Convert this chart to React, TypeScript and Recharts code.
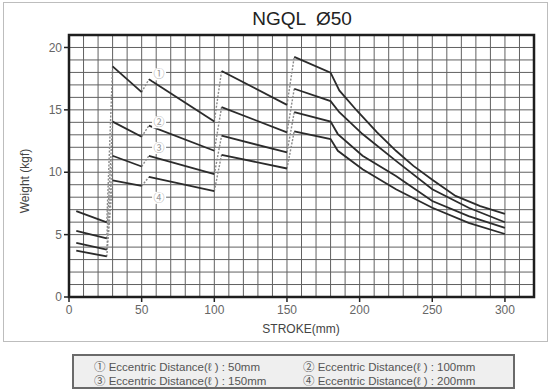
import { CartesianGrid, Line, LineChart, ReferenceArea, ReferenceDot, XAxis, YAxis } from 'recharts'

type Pt = { x: number; y: number }

// stroke (mm) / weight (kgf), one list of segments per eccentric distance
const SERIES_50: number[][][] = [
	[[5, 6.88], [26, 5.98]],
	[[30, 18.49], [50, 16.42]],
	[[55, 17.45], [100, 14.06]],
	[[105, 18.12], [150, 15.4]],
	[[155, 19.25], [180, 17.98], [186, 16.56], [198, 14.95], [212, 13.2], [225, 11.72], [237, 10.51], [250, 9.4], [266, 8.1], [283, 7.28], [300, 6.67]],
]
const SERIES_100: number[][][] = [
	[[5, 5.3], [26, 4.7]],
	[[30, 14.06], [50, 12.85]],
	[[55, 13.74], [100, 11.72]],
	[[105, 15.22], [150, 13.2]],
	[[155, 16.69], [180, 15.7], [186, 14.81], [202, 13.06], [225, 10.91], [250, 8.63], [275, 7.15], [300, 5.99]],
]
const SERIES_150: number[][][] = [
	[[5, 4.33], [26, 3.79]],
	[[30, 11.32], [50, 10.46]],
	[[55, 11.32], [100, 9.84]],
	[[105, 12.93], [150, 11.59]],
	[[155, 14.81], [180, 14.06], [185, 13.06], [202, 11.32], [225, 9.7], [250, 7.69], [275, 6.48], [300, 5.54]],
]
const SERIES_200: number[][][] = [
	[[5, 3.71], [26, 3.25]],
	[[30, 9.35], [50, 8.9]],
	[[55, 9.62], [100, 8.49]],
	[[105, 11.4], [150, 10.3]],
	[[155, 13.28], [180, 12.66], [185, 11.72], [202, 10.24], [225, 8.63], [250, 7.15], [275, 5.94], [300, 5.05]],
]
const ALL_SERIES = [SERIES_50, SERIES_100, SERIES_150, SERIES_200]

const MARKS = ['①', '②', '③', '④']
const MARK_X = [62, 62, 62, 62]
const MARK_Y = [17.85, 14, 11.95, 7.95]

const LEGEND = [
	'① Eccentric Distance(ℓ ) : 50mm',
	'② Eccentric Distance(ℓ ) : 100mm',
	'③ Eccentric Distance(ℓ ) : 150mm',
	'④ Eccentric Distance(ℓ ) : 200mm',
]

const X_LABELS = [0, 50, 100, 150, 200, 250, 300]
const Y_LABELS = [0, 5, 10, 15, 20]
const X_GRID = Array.from({ length: 33 }, (_, i) => i * 10)
const Y_GRID = Array.from({ length: 22 }, (_, i) => i)

const FONT = '"Liberation Sans", Arial, "Noto Sans CJK SC", sans-serif'

const toPts = (seg: number[][]): Pt[] => seg.map(([x, y]) => ({ x, y }))

function XTick(props: any) {
	const { x, y, payload } = props
	if (!X_LABELS.includes(payload.value)) return <g />
	return (
		<g>
			<line x1={x} x2={x} y1={y - 8} y2={y - 3} stroke='#222' strokeWidth={1.5} />
			<text x={x} y={y} dy='0.78em' textAnchor='middle' fontSize={12} fill='#666' fontFamily={FONT}>
				{payload.value}
			</text>
		</g>
	)
}

function YTick(props: any) {
	const { x, y, payload } = props
	if (!Y_LABELS.includes(payload.value)) return <g />
	return (
		<g>
			<line x1={x + 3} x2={x + 8} y1={y} y2={y} stroke='#222' strokeWidth={1.5} />
			<text x={x + 1} y={y} dy='0.35em' textAnchor='end' fontSize={12} fill='#666' fontFamily={FONT}>
				{payload.value}
			</text>
		</g>
	)
}

function Mark(label: string) {
	return (props: any) => (
		<g>
			<rect x={props.cx - 7} y={props.cy - 6} width={14} height={12} fill='#fff' />
			<text x={props.cx} y={props.cy} dy='0.35em' textAnchor='middle' fontSize={11} fill='#999' fontFamily={FONT}>
				{label}
			</text>
		</g>
	)
}

export default function App() {
	const solids: JSX.Element[] = []
	const dotted: JSX.Element[] = []
	ALL_SERIES.forEach((series, si) => {
		series.forEach((seg, gi) => {
			solids.push(
				<Line
					key={`s${si}-${gi}`}
					data={toPts(seg)}
					dataKey='y'
					type='linear'
					stroke='#2b2b2b'
					strokeWidth={1.8}
					dot={false}
					activeDot={false}
					isAnimationActive={false}
				/>,
			)
			if (gi > 0) {
				const prev = series[gi - 1]
				dotted.push(
					<Line
						key={`d${si}-${gi}`}
						data={toPts([prev[prev.length - 1], seg[0]])}
						dataKey='y'
						type='linear'
						stroke='#8a8a8a'
						strokeWidth={1.4}
						strokeDasharray='2 1.5'
						dot={false}
						activeDot={false}
						isAnimationActive={false}
					/>,
				)
			}
		})
	})

	return (
		<div style={{ position: 'absolute', left: 0, top: 0, width: 551, height: 392, background: '#fff', fontFamily: FONT }}>
			<div style={{ position: 'absolute', left: 3, top: 2, width: 543, height: 338, border: '1px solid #bdbdbd' }} />
			<div
				style={{
					position: 'absolute',
					left: 302,
					top: 8,
					transform: 'translateX(-50%)',
					fontSize: 19,
					color: '#222',
					whiteSpace: 'pre',
				}}
			>
				NGQL  Ø50
			</div>
			<div style={{ position: 'absolute', left: 0, top: 0 }}>
				<LineChart width={551} height={345} margin={{ top: 35, right: 17, bottom: 18, left: 39 }}>
					<CartesianGrid stroke='#616161' strokeWidth={1} />
					<XAxis
						type='number'
						dataKey='x'
						domain={[0, 320]}
						ticks={X_GRID}
						interval={0}
						height={30}
						tickSize={5}
						tickMargin={3}
						tickLine={false}
						axisLine={false}
						tick={<XTick />}
						allowDataOverflow
					/>
					<YAxis
						type='number'
						domain={[0, 21]}
						ticks={Y_GRID}
						interval={0}
						width={30}
						tickSize={5}
						tickMargin={3}
						tickLine={false}
						axisLine={false}
						tick={<YTick />}
						allowDataOverflow
					/>
					<ReferenceArea x1={0} x2={320} y1={0} y2={21} fill='none' stroke='#1e1e1e' strokeWidth={2.5} />
					{dotted}
					{solids}
					{MARKS.map((m, i) => (
						<ReferenceDot key={m} x={MARK_X[i]} y={MARK_Y[i]} r={6} shape={Mark(m)} />
					))}
				</LineChart>
			</div>
			<div
				style={{
					position: 'absolute',
					left: 25,
					top: 181,
					transform: 'translate(-50%, -50%) rotate(-90deg)',
					fontSize: 12,
					color: '#444',
					whiteSpace: 'nowrap',
				}}
			>
				Weight (kgf)
			</div>
			<div
				style={{
					position: 'absolute',
					left: 301,
					top: 322,
					transform: 'translateX(-50%)',
					fontSize: 12,
					color: '#444',
					whiteSpace: 'nowrap',
				}}
			>
				STROKE(mm)
			</div>
			<div
				style={{
					position: 'absolute',
					left: 72,
					top: 354,
					width: 419,
					height: 26,
					border: '2px solid #6a6a6a',
					background: '#efefef',
					fontSize: 11.5,
					color: '#555',
					display: 'grid',
					gridTemplateColumns: '209px 190px',
					gridAutoRows: '13.5px',
					paddingLeft: 20,
					paddingTop: 5,
					boxSizing: 'content-box',
					lineHeight: '13.5px',
					whiteSpace: 'nowrap',
				}}
			>
				{LEGEND.map((t, i) => (
					<div key={i} style={{ gridColumn: (i % 2) + 1, gridRow: Math.floor(i / 2) + 1 }}>
						{t}
					</div>
				))}
			</div>
		</div>
	)
}
